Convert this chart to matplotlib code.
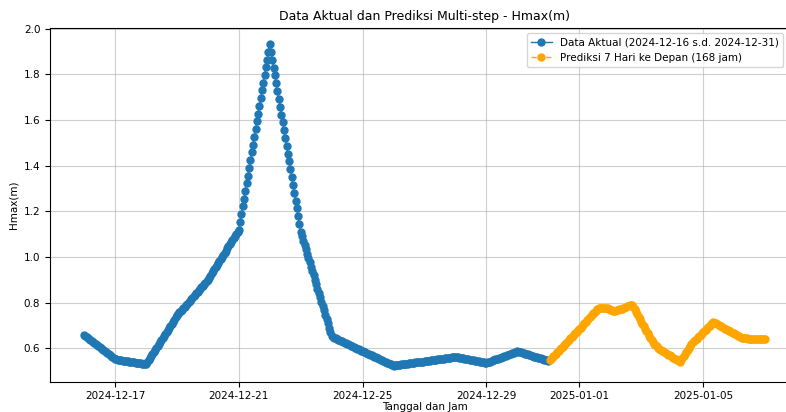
import matplotlib
matplotlib.use("Agg")
import matplotlib.pyplot as plt
import pandas as pd

# Hourly actual Hmax values (m), 2024-12-16 00:00 .. 2024-12-31 00:00 (one row per day)
actual_values = [
    0.657, 0.653, 0.648, 0.644, 0.640, 0.635, 0.631, 0.626, 0.622, 0.618, 0.613, 0.609,
    0.605, 0.600, 0.596, 0.591, 0.587, 0.583, 0.578, 0.574, 0.570, 0.565, 0.561, 0.556,
    0.552, 0.551, 0.550, 0.549, 0.548, 0.547, 0.546, 0.546, 0.545, 0.544, 0.543, 0.542,
    0.541, 0.540, 0.539, 0.538, 0.537, 0.536, 0.535, 0.535, 0.534, 0.533, 0.532, 0.531,
    0.530, 0.539, 0.548, 0.557, 0.566, 0.575, 0.584, 0.592, 0.601, 0.610, 0.619, 0.628,
    0.637, 0.646, 0.655, 0.664, 0.673, 0.682, 0.691, 0.699, 0.708, 0.717, 0.726, 0.735,
    0.744, 0.750, 0.757, 0.764, 0.770, 0.777, 0.783, 0.790, 0.796, 0.803, 0.809, 0.816,
    0.822, 0.829, 0.835, 0.842, 0.848, 0.855, 0.861, 0.868, 0.874, 0.881, 0.887, 0.894,
    0.900, 0.909, 0.918, 0.928, 0.937, 0.946, 0.955, 0.964, 0.973, 0.983, 0.992, 1.001,
    1.010, 1.019, 1.028, 1.038, 1.047, 1.056, 1.065, 1.074, 1.083, 1.093, 1.102, 1.111,
    1.120, 1.154, 1.188, 1.222, 1.256, 1.289, 1.323, 1.357, 1.391, 1.425, 1.459, 1.493,
    1.527, 1.560, 1.594, 1.628, 1.662, 1.696, 1.730, 1.764, 1.798, 1.831, 1.865, 1.899,
    1.933, 1.899, 1.864, 1.830, 1.796, 1.761, 1.727, 1.693, 1.659, 1.624, 1.590, 1.556,
    1.522, 1.487, 1.453, 1.419, 1.384, 1.350, 1.316, 1.281, 1.247, 1.213, 1.179, 1.144,
    1.110, 1.091, 1.072, 1.053, 1.034, 1.015, 0.996, 0.976, 0.957, 0.938, 0.919, 0.900,
    0.881, 0.862, 0.843, 0.824, 0.805, 0.786, 0.767, 0.747, 0.728, 0.709, 0.690, 0.671,
    0.652, 0.649, 0.647, 0.644, 0.641, 0.638, 0.636, 0.633, 0.630, 0.628, 0.625, 0.622,
    0.620, 0.617, 0.614, 0.611, 0.609, 0.606, 0.603, 0.601, 0.598, 0.595, 0.592, 0.590,
    0.587, 0.584, 0.582, 0.579, 0.576, 0.574, 0.571, 0.569, 0.566, 0.563, 0.561, 0.558,
    0.556, 0.553, 0.550, 0.548, 0.545, 0.542, 0.540, 0.537, 0.535, 0.532, 0.529, 0.527,
    0.524, 0.525, 0.526, 0.526, 0.527, 0.528, 0.529, 0.530, 0.530, 0.531, 0.532, 0.533,
    0.534, 0.534, 0.535, 0.536, 0.537, 0.538, 0.538, 0.539, 0.540, 0.541, 0.541, 0.542,
    0.543, 0.544, 0.545, 0.545, 0.546, 0.547, 0.548, 0.549, 0.549, 0.550, 0.551, 0.552,
    0.553, 0.553, 0.554, 0.555, 0.556, 0.556, 0.557, 0.558, 0.559, 0.560, 0.560, 0.561,
    0.562, 0.561, 0.560, 0.559, 0.558, 0.557, 0.556, 0.554, 0.553, 0.552, 0.551, 0.550,
    0.549, 0.548, 0.547, 0.546, 0.545, 0.544, 0.543, 0.541, 0.540, 0.539, 0.538, 0.537,
    0.536, 0.538, 0.540, 0.542, 0.544, 0.547, 0.549, 0.551, 0.553, 0.555, 0.557, 0.559,
    0.561, 0.564, 0.566, 0.568, 0.570, 0.572, 0.574, 0.576, 0.578, 0.581, 0.583, 0.585,
    0.587, 0.585, 0.583, 0.582, 0.580, 0.578, 0.576, 0.575, 0.573, 0.571, 0.569, 0.568,
    0.566, 0.564, 0.563, 0.561, 0.559, 0.557, 0.556, 0.554, 0.552, 0.550, 0.548, 0.547,
    0.545,
]

# Hourly 7-day forecast (168 h), 2024-12-31 01:00 .. 2025-01-07 00:00
forecast_values = [
    0.547, 0.553, 0.559, 0.565, 0.571, 0.577, 0.583, 0.589, 0.595, 0.601, 0.607, 0.613,
    0.619, 0.625, 0.631, 0.637, 0.643, 0.649, 0.655, 0.661, 0.667, 0.673, 0.679, 0.685,
    0.691, 0.697, 0.704, 0.710, 0.716, 0.722, 0.728, 0.735, 0.741, 0.747, 0.753, 0.759,
    0.765, 0.771, 0.775, 0.777, 0.778, 0.778, 0.778, 0.778, 0.777, 0.776, 0.773, 0.769,
    0.766, 0.764, 0.763, 0.765, 0.767, 0.769, 0.771, 0.772, 0.774, 0.776, 0.778, 0.781,
    0.784, 0.787, 0.789, 0.790, 0.790, 0.783, 0.772, 0.761, 0.749, 0.737, 0.727, 0.717,
    0.706, 0.696, 0.686, 0.676, 0.666, 0.655, 0.645, 0.636, 0.628, 0.621, 0.614, 0.608,
    0.603, 0.598, 0.594, 0.590, 0.586, 0.583, 0.579, 0.576, 0.572, 0.569, 0.565, 0.561,
    0.558, 0.554, 0.551, 0.547, 0.544, 0.540, 0.547, 0.556, 0.566, 0.575, 0.584, 0.593,
    0.602, 0.611, 0.620, 0.626, 0.631, 0.637, 0.642, 0.648, 0.654, 0.659, 0.665, 0.670,
    0.676, 0.682, 0.687, 0.693, 0.698, 0.706, 0.712, 0.715, 0.712, 0.709, 0.705, 0.702,
    0.699, 0.696, 0.692, 0.689, 0.686, 0.683, 0.680, 0.677, 0.674, 0.671, 0.668, 0.665,
    0.662, 0.659, 0.656, 0.653, 0.650, 0.647, 0.646, 0.645, 0.644, 0.643, 0.642, 0.641,
    0.641, 0.640, 0.640, 0.640, 0.640, 0.641, 0.641, 0.641, 0.641, 0.640, 0.640, 0.640,
]

actual_start = "2024-12-16 00:00"
forecast_start = "2024-12-31 01:00"
xtick_labels = ["2024-12-17", "2024-12-21", "2024-12-25", "2024-12-29", "2025-01-01", "2025-01-05"]
ytick_values = [0.6, 0.8, 1.0, 1.2, 1.4, 1.6, 1.8, 2.0]

actual_index = pd.date_range(actual_start, periods=len(actual_values), freq="h")
forecast_index = pd.date_range(forecast_start, periods=len(forecast_values), freq="h")

fig = plt.figure(figsize=(7.86, 4.12), dpi=100)
ax = fig.add_axes([0.0636, 0.0735, 0.953, 0.8585])

ax.plot(actual_index, actual_values, marker="o", markersize=5.0, linewidth=1.0,
        color="tab:blue", label="Data Aktual (2024-12-16 s.d. 2024-12-31)")
ax.plot(forecast_index, forecast_values, marker="o", markersize=5.0, linewidth=1.0,
        linestyle="--", color="orange", label="Prediksi 7 Hari ke Depan (168 jam)")

ax.set_xticks(pd.to_datetime(xtick_labels))
ax.set_xticklabels(xtick_labels, fontsize=7.5)
ax.set_yticks(ytick_values)
ax.set_yticklabels([f"{v:.1f}" for v in ytick_values], fontsize=7.5)
ax.tick_params(length=3.5, width=0.8)

ax.set_title("Data Aktual dan Prediksi Multi-step - Hmax(m)", fontsize=9)
ax.set_xlabel("Tanggal dan Jam", fontsize=7.5, labelpad=0.5)
ax.set_ylabel("Hmax(m)", fontsize=7.5)
ax.grid(True, color="#b0b0b0", linewidth=0.8, alpha=0.6)
# keep the legend fully inside the visible figure area, just below the axes top
ax.legend(loc="upper right", fontsize=7.5,
          bbox_to_anchor=(1.003, 0.932), bbox_transform=fig.transFigure)

fig.savefig("out.png", dpi=100)
